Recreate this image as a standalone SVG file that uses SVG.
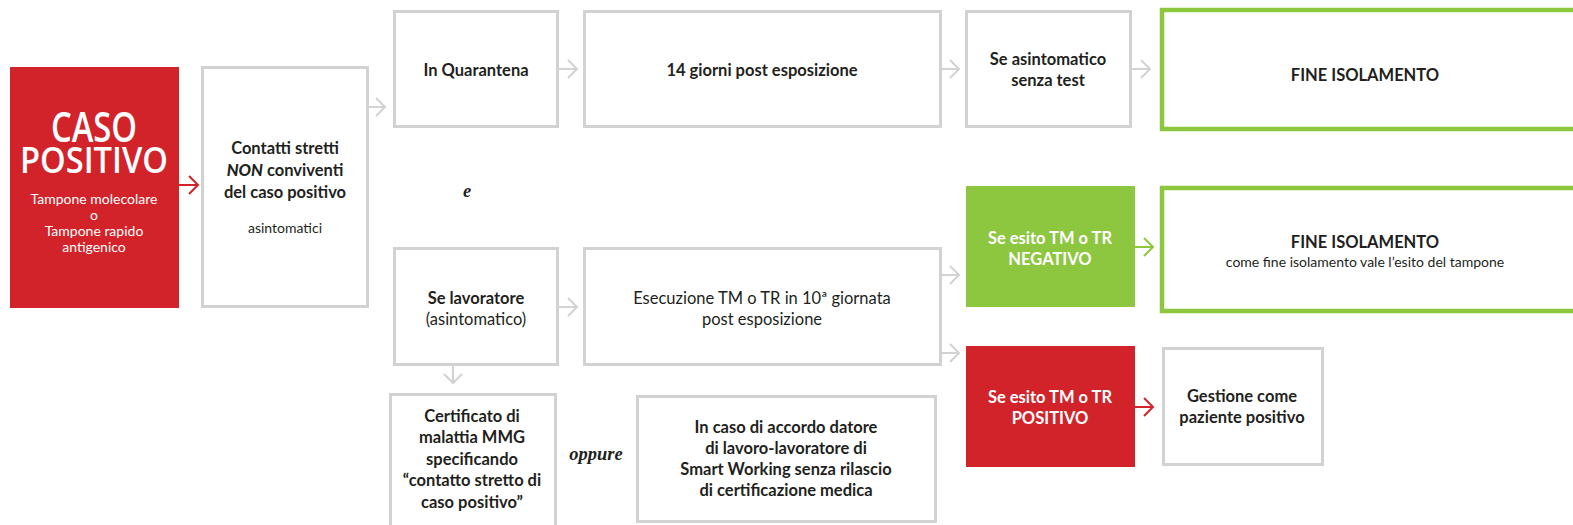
<svg xmlns="http://www.w3.org/2000/svg" width="1573" height="525" viewBox="0 0 1573 525">
<defs>
<style>
.box{fill:#fff;stroke:#d2d2d2;stroke-width:3}
.gbox{fill:#fff;stroke:#8dc63f;stroke-width:4.5}
.red{fill:#d2232a}
.green{fill:#8dc63f}
text{font-family:"Lato","Noto Sans",sans-serif;text-anchor:middle;fill:#231f20}
.b{font-weight:700;font-size:16.5px}
.r{font-weight:400;font-size:16.5px}
.s{font-weight:400;font-size:14px}
.w{fill:#fff}
.t{font-family:"Open Sans","Noto Sans",sans-serif;font-weight:600}
.it{font-family:"Liberation Serif",serif;font-style:italic;font-weight:700;font-size:18.5px}
.cg{fill:none;stroke:#d2d2d2;stroke-width:2}
.cr{fill:none;stroke:#d2232a;stroke-width:2}
.cgr{fill:none;stroke:#8dc63f;stroke-width:2}
</style>
<marker id="ag" markerUnits="userSpaceOnUse" markerWidth="14" markerHeight="24" viewBox="-11 -12 14 24" refX="0" refY="0" orient="auto" overflow="visible"><path d="M-9,-9 L0,0 L-9,9" fill="none" stroke="#d2d2d2" stroke-width="2"/></marker>
<marker id="ar" markerUnits="userSpaceOnUse" markerWidth="14" markerHeight="24" viewBox="-11 -12 14 24" refX="0" refY="0" orient="auto" overflow="visible"><path d="M-9,-9 L0,0 L-9,9" fill="none" stroke="#d2232a" stroke-width="2"/></marker>
<marker id="agr" markerUnits="userSpaceOnUse" markerWidth="14" markerHeight="24" viewBox="-11 -12 14 24" refX="0" refY="0" orient="auto" overflow="visible"><path d="M-9,-9 L0,0 L-9,9" fill="none" stroke="#8dc63f" stroke-width="2"/></marker>
</defs>
<rect width="1573" height="525" fill="#fff"/>

<g id="caso-positivo">
<rect class="red" x="10" y="67" width="169" height="241"/>
<text class="w t"><tspan x="94" y="142" font-size="42" textLength="86" lengthAdjust="spacingAndGlyphs">CASO</tspan><tspan x="94" y="173" font-size="36" textLength="148" lengthAdjust="spacingAndGlyphs">POSITIVO</tspan></text>
<text class="s w" x="94" y="204">Tampone molecolare</text>
<text class="s w" x="94" y="220">o</text>
<text class="s w" x="94" y="236">Tampone rapido</text>
<text class="s w" x="94" y="252">antigenico</text>
</g>

<g id="contatti">
<rect class="box" x="202.5" y="67.5" width="165" height="239"/>
<text class="b" x="285" y="154">Contatti stretti</text>
<text class="b" x="285" y="176"><tspan font-style="italic" font-weight="900">NON</tspan> conviventi</text>
<text class="b" x="285" y="198">del caso positivo</text>
<text class="s" x="285" y="233">asintomatici</text>
</g>

<g id="quarantena">
<rect class="box" x="394.5" y="11.5" width="163" height="115"/>
<text class="b" x="476" y="76">In Quarantena</text>
</g>

<g id="quattordici-giorni">
<rect class="box" x="584.5" y="11.5" width="356" height="115"/>
<text class="b" x="762" y="76">14 giorni post esposizione</text>
</g>

<g id="se-asintomatico">
<rect class="box" x="966.5" y="11.5" width="164" height="115"/>
<text class="b" x="1048" y="65">Se asintomatico</text>
<text class="b" x="1048" y="86">senza test</text>
</g>

<g id="fine-isolamento-1">
<rect class="gbox" x="1162" y="10" width="420" height="119"/>
<text class="b" x="1365" y="81">FINE ISOLAMENTO</text>
</g>

<g id="e-label">
<text class="it" x="467" y="197">e</text>
</g>

<g id="se-lavoratore">
<rect class="box" x="394.5" y="248.5" width="163" height="116"/>
<text class="b" x="476" y="304">Se lavoratore</text>
<text class="r" x="476" y="325">(asintomatico)</text>
</g>

<g id="esecuzione">
<rect class="box" x="584.5" y="248.5" width="356" height="116"/>
<text class="r" x="762" y="304">Esecuzione TM o TR in 10ª giornata</text>
<text class="r" x="762" y="325">post esposizione</text>
</g>

<g id="esito-negativo">
<rect class="green" x="966" y="186" width="169" height="121"/>
<text class="b w" x="1050" y="244">Se esito TM o TR</text>
<text class="b w" x="1050" y="265">NEGATIVO</text>
</g>

<g id="fine-isolamento-2">
<rect class="gbox" x="1162" y="188" width="420" height="123"/>
<text class="b" x="1365" y="248">FINE ISOLAMENTO</text>
<text class="s" x="1365" y="267" font-size="14.3">come fine isolamento vale l’esito del tampone</text>
</g>

<g id="esito-positivo">
<rect class="red" x="966" y="346" width="169" height="121"/>
<text class="b w" x="1050" y="403">Se esito TM o TR</text>
<text class="b w" x="1050" y="424">POSITIVO</text>
</g>

<g id="gestione">
<rect class="box" x="1163.5" y="348.5" width="159" height="116"/>
<text class="b" x="1242" y="402">Gestione come</text>
<text class="b" x="1242" y="423">paziente positivo</text>
</g>

<g id="certificato">
<rect class="box" x="390.5" y="394.5" width="165" height="140"/>
<text class="b" x="472" y="422">Certificato di</text>
<text class="b" x="472" y="443">malattia MMG</text>
<text class="b" x="472" y="465">specificando</text>
<text class="b" x="472" y="486">“contatto stretto di</text>
<text class="b" x="472" y="508">caso positivo”</text>
</g>

<g id="oppure-label">
<text class="it" x="596" y="460">oppure</text>
</g>

<g id="smart-working">
<rect class="box" x="637.5" y="396.5" width="298" height="125"/>
<text class="b" x="786" y="433">In caso di accordo datore</text>
<text class="b" x="786" y="454">di lavoro-lavoratore di</text>
<text class="b" x="786" y="475">Smart Working senza rilascio</text>
<text class="b" x="786" y="496">di certificazione medica</text>
</g>

<g id="connectors">
<line class="cr" x1="179" y1="185" x2="198" y2="185" marker-end="url(#ar)"/>
<line class="cg" x1="369" y1="107" x2="385" y2="107" marker-end="url(#ag)"/>
<line class="cg" x1="559" y1="69" x2="577" y2="69" marker-end="url(#ag)"/>
<line class="cg" x1="942" y1="69" x2="959" y2="69" marker-end="url(#ag)"/>
<line class="cg" x1="1132" y1="69" x2="1150" y2="69" marker-end="url(#ag)"/>
<line class="cg" x1="559" y1="307" x2="577" y2="307" marker-end="url(#ag)"/>
<line class="cg" x1="942" y1="275" x2="959" y2="275" marker-end="url(#ag)"/>
<line class="cg" x1="942" y1="353" x2="959" y2="353" marker-end="url(#ag)"/>
<line class="cgr" x1="1135" y1="247" x2="1153" y2="247" marker-end="url(#agr)"/>
<line class="cr" x1="1135" y1="407" x2="1153" y2="407" marker-end="url(#ar)"/>
<line class="cg" x1="453" y1="366" x2="453" y2="383" marker-end="url(#ag)"/>
</g>
</svg>
